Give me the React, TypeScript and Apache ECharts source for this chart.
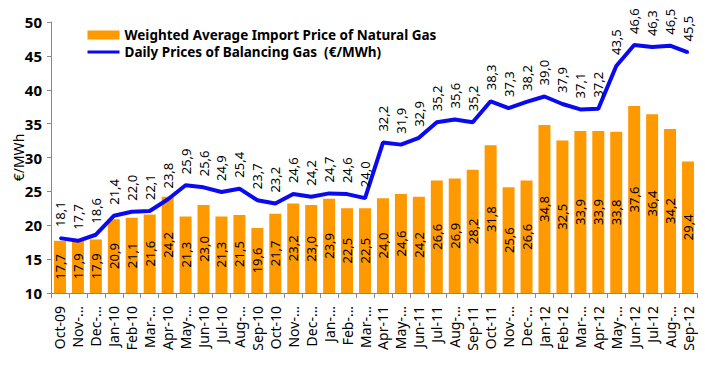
import React, { useEffect, useRef } from "react";
import * as echarts from "echarts";

const categories = [
  "Oct-09", "Nov-…", "Dec-…", "Jan-10", "Feb-10", "Mar-…", "Apr-10", "May-…", "Jun-10", "Jul-10", "Aug-…", "Sep-10",
  "Oct-10", "Nov-…", "Dec-…", "Jan-…", "Feb-…", "Mar-…", "Apr-11", "May-…", "Jun-11", "Jul-11", "Aug-…", "Sep-11",
  "Oct-11", "Nov-…", "Dec-…", "Jan-12", "Feb-12", "Mar-…", "Apr-12", "May-…", "Jun-12", "Jul-12", "Aug-…", "Sep-12",
];

const importPrice = [
  17.7, 17.9, 17.9, 20.9, 21.1, 21.6, 24.2, 21.3, 23.0, 21.3, 21.5, 19.6,
  21.7, 23.2, 23.0, 23.9, 22.5, 22.5, 24.0, 24.6, 24.2, 26.6, 26.9, 28.2,
  31.8, 25.6, 26.6, 34.8, 32.5, 33.9, 33.9, 33.8, 37.6, 36.4, 34.2, 29.4,
];

const balancingPrice = [
  18.1, 17.7, 18.6, 21.4, 22.0, 22.1, 23.8, 25.9, 25.6, 24.9, 25.4, 23.7,
  23.2, 24.6, 24.2, 24.7, 24.6, 24.0, 32.2, 31.9, 32.9, 35.2, 35.6, 35.2,
  38.3, 37.3, 38.2, 39.0, 37.9, 37.1, 37.2, 43.5, 46.6, 46.3, 46.5, 45.5,
];

const yTicks = { min: 10, max: 50, interval: 5 };

const barName = "Weighted Average Import Price of Natural Gas";
const lineName = "Daily Prices of Balancing Gas  (€/MWh)";

const FONT = "'Noto Sans', 'DejaVu Sans', sans-serif";
const fmt = (v: number) => v.toFixed(1).replace(".", ",");
const BLUE = "#0A0AF0";

export default function App() {
  const ref = useRef<HTMLDivElement>(null);
  useEffect(() => {
    if (!ref.current) return;
    const chart = echarts.init(ref.current, undefined, { renderer: "svg" });
    chart.setOption({
      animation: false,
      backgroundColor: "#ffffff",
      textStyle: { fontFamily: FONT },
      grid: { left: 51, right: 8, top: 22, bottom: 73, containLabel: false, outerBoundsMode: "none" },
      legend: {
        orient: "vertical",
        left: 81,
        top: 23,
        itemWidth: 32,
        itemHeight: 9,
        itemGap: 3,
        textStyle: { fontFamily: FONT, fontSize: 13.5, fontWeight: "bold", color: "#000" },
        data: [
          { name: barName, icon: "rect" },
          { name: lineName, itemStyle: { opacity: 0 }, lineStyle: { width: 3, color: BLUE } },
        ],
      },
      xAxis: {
        type: "category",
        data: categories,
        boundaryGap: true,
        axisLine: { lineStyle: { color: "#888", width: 1 } },
        axisTick: { show: true, alignWithLabel: false, length: 5, lineStyle: { color: "#888" } },
        axisLabel: {
          interval: 0,
          rotate: 90,
          fontFamily: FONT,
          fontSize: 14,
          color: "#000",
          margin: 13,
        },
      },
      yAxis: {
        type: "value",
        min: yTicks.min,
        max: yTicks.max,
        interval: yTicks.interval,
        name: "€/MWh",
        nameLocation: "middle",
        nameRotate: 90,
        nameGap: 26,
        nameMoveOverlap: false,
        nameTextStyle: { fontFamily: FONT, fontSize: 14, color: "#000" },
        splitLine: { show: false },
        axisLine: { show: true, lineStyle: { color: "#888", width: 1 } },
        axisTick: { show: true, length: 4, lineStyle: { color: "#888" } },
        axisLabel: { fontFamily: FONT, fontSize: 15, fontWeight: "bold", color: "#000", margin: 9 },
      },
      series: [
        {
          name: barName,
          type: "bar",
          data: importPrice,
          barWidth: 12,
          itemStyle: { color: "#FF9900" },
          label: {
            show: true,
            position: "inside",
            rotate: 90,
            formatter: (p: any) => fmt(p.value),
            fontFamily: FONT,
            fontSize: 13,
            color: "#000",
          },
        },
        {
          name: lineName,
          type: "line",
          data: balancingPrice,
          symbol: "circle",
          symbolSize: 2,
          showSymbol: true,
          lineStyle: { color: BLUE, width: 4 },
          itemStyle: { color: BLUE },
          label: {
            show: true,
            position: "top",
            rotate: 90,
            align: "left",
            verticalAlign: "middle",
            distance: 10,
            formatter: (p: any) => fmt(p.value),
            fontFamily: FONT,
            fontSize: 13,
            color: "#000",
          },
        },
      ],
    });
    return () => chart.dispose();
  }, []);
  return <div ref={ref} style={{ width: 705, height: 366, position: "absolute", left: 0, top: 0 }} />;
}
